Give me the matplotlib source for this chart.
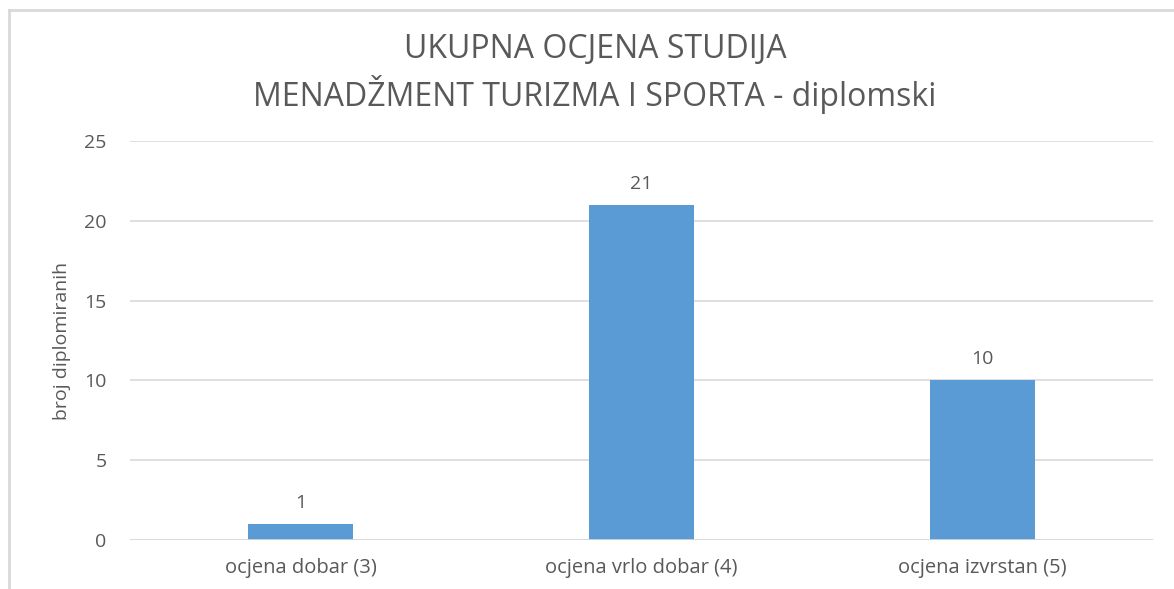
import matplotlib.pyplot as plt

plt.rcParams['font.family'] = ['Open Sans', 'DejaVu Sans']

categories = ["ocjena dobar (3)", "ocjena vrlo dobar (4)", "ocjena izvrstan (5)"]
values = [1, 21, 10]
yticks = [0, 5, 10, 15, 20, 25]

TXT = "#595959"
GRID = "#D9D9D9"
BAR = "#5B9BD5"

fig = plt.figure(figsize=(11.74, 5.89), dpi=100)
ax = fig.add_axes([130 / 1174, 1 - 540 / 589, 1023 / 1174, 399 / 589])

x = range(len(categories))
bars = ax.bar(x, values, width=0.31, color=BAR, zorder=3)
for b, v in zip(bars, values):
    ax.text(b.get_x() + b.get_width() / 2, v + 0.75, str(v), ha="center", va="bottom",
            fontsize=14, color=TXT)

ax.set_xlim(-0.5, len(categories) - 0.5)
ax.set_ylim(0, 25)
ax.set_yticks(yticks)
ax.set_xticks(list(x))
ax.set_xticklabels(categories, fontsize=14.5)
ax.tick_params(axis="both", length=0, colors=TXT)
ax.tick_params(axis="y", pad=17, labelsize=14)
ax.tick_params(axis="x", pad=13)
ax.grid(axis="y", color=GRID, linewidth=1.2, zorder=0)
for s in ax.spines.values():
    s.set_visible(False)
ax.axhline(0, color=GRID, linewidth=1.2, zorder=4)
ax.set_ylabel("broj diplomiranih", fontsize=14, color=TXT, labelpad=9)

fig.text(595 / 1174, 1 - 50 / 589, "UKUPNA OCJENA STUDIJA", ha="center", va="center",
         fontsize=23, color=TXT)
fig.text(595 / 1174, 1 - 95 / 589, "MENADŽMENT TURIZMA I SPORTA - diplomski", ha="center",
         va="center", fontsize=23, color=TXT)

# chart frame (left and top edges visible)
fig.add_artist(plt.Line2D([9 / 1174, 9 / 1174], [0, 1 - 10 / 589], color=GRID,
                          linewidth=2, transform=fig.transFigure))
fig.add_artist(plt.Line2D([9 / 1174, 1], [1 - 10 / 589, 1 - 10 / 589], color=GRID,
                          linewidth=2, transform=fig.transFigure))

fig.savefig("out.png", dpi=100)
